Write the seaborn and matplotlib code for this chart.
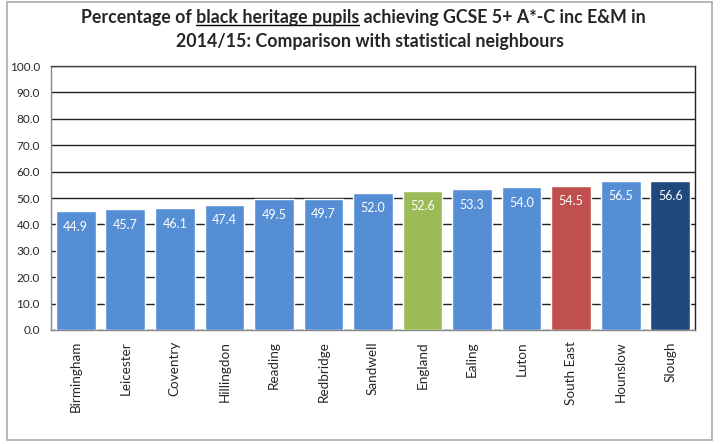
import matplotlib
matplotlib.use("Agg")
import matplotlib.pyplot as plt
from matplotlib.patches import Rectangle
from matplotlib.lines import Line2D
import pandas as pd
import seaborn as sns

sns.set_style("white")
plt.rcParams['font.family'] = ['Lato', 'DejaVu Sans']

areas = ['Birmingham', 'Leicester', 'Coventry', 'Hillingdon', 'Reading', 'Redbridge',
         'Sandwell', 'England', 'Ealing', 'Luton', 'South East', 'Hounslow', 'Slough']
values = [44.9, 45.7, 46.1, 47.4, 49.5, 49.7, 52.0, 52.6, 53.3, 54.0, 54.5, 56.5, 56.6]
blue, green, red, navy = '#558ed5', '#9bbb59', '#c0504d', '#1f497d'
bar_colors = [blue] * 7 + [green] + [blue] * 2 + [red] + [blue] + [navy]

df = pd.DataFrame({'area': areas, 'pct': values})

fig = plt.figure(figsize=(7.26, 4.44), dpi=100)
ax = fig.add_axes([51 / 726, 1 - 330 / 444, (695 - 51) / 726, (330 - 66) / 444])

sns.barplot(data=df, x='area', y='pct', hue='area', palette=bar_colors,
            width=0.8, saturation=1, legend=False, ax=ax, zorder=3)

ax.set_ylim(0, 100)
ax.set_yticks(range(0, 101, 10))
ax.set_yticklabels([f'{v:.1f}' for v in range(0, 101, 10)], fontsize=8.5)
ax.set_xlabel('')
ax.set_ylabel('')
ax.tick_params(axis='x', labelrotation=90, labelsize=9.7, length=0, pad=8)
ax.tick_params(axis='y', length=4, color='#888888', pad=4)
ax.yaxis.grid(True, color='#222222', linewidth=1)
ax.set_axisbelow(True)
for side in ['left', 'bottom']:
    ax.spines[side].set_color('#888888')
ax.spines['top'].set_color('#444444')
ax.spines['right'].set_color('#222222')
for s in ax.spines.values():
    s.set_linewidth(1)

for i, v in enumerate(values):
    ax.annotate(f'{v:.1f}', (i, v), xytext=(0, -11), textcoords='offset points',
                ha='center', va='center', color='white', fontsize=9, zorder=4)

# title, with the group name underlined
fig.canvas.draw()
renderer = fig.canvas.get_renderer()
tsize = 12.8
tkw = dict(fontsize=tsize, fontweight='bold', ha='center', va='center')
line1 = 'Percentage of black heritage pupils achieving GCSE 5+ A*-C inc E&M in'
t1 = fig.text(0.5, 1 - 18 / 444, line1, **tkw)
fig.text(0.51, 1 - 42 / 444, '2014/15: Comparison with statistical neighbours', **tkw)
bb = t1.get_window_extent(renderer)
tmp = fig.text(0, 0, 'Percentage of black heritage pupils', fontsize=tsize, fontweight='bold')
w_pre = tmp.get_window_extent(renderer).width
tmp.set_text('black heritage pupils')
w_word = tmp.get_window_extent(renderer).width
tmp.remove()
x_end = bb.x0 + w_pre
x_start = x_end - w_word
y_ul = bb.y0 + 1
fig.add_artist(Line2D([x_start / 726, x_end / 726], [y_ul / 444, y_ul / 444],
                      color='black', linewidth=1, transform=fig.transFigure))

fig.add_artist(Rectangle((7 / 726, 4 / 444), (712 - 7) / 726, (442 - 4) / 444,
                         transform=fig.transFigure, fill=False,
                         edgecolor='#aaaaaa', linewidth=1.2))

fig.savefig('out.png', dpi=100)
